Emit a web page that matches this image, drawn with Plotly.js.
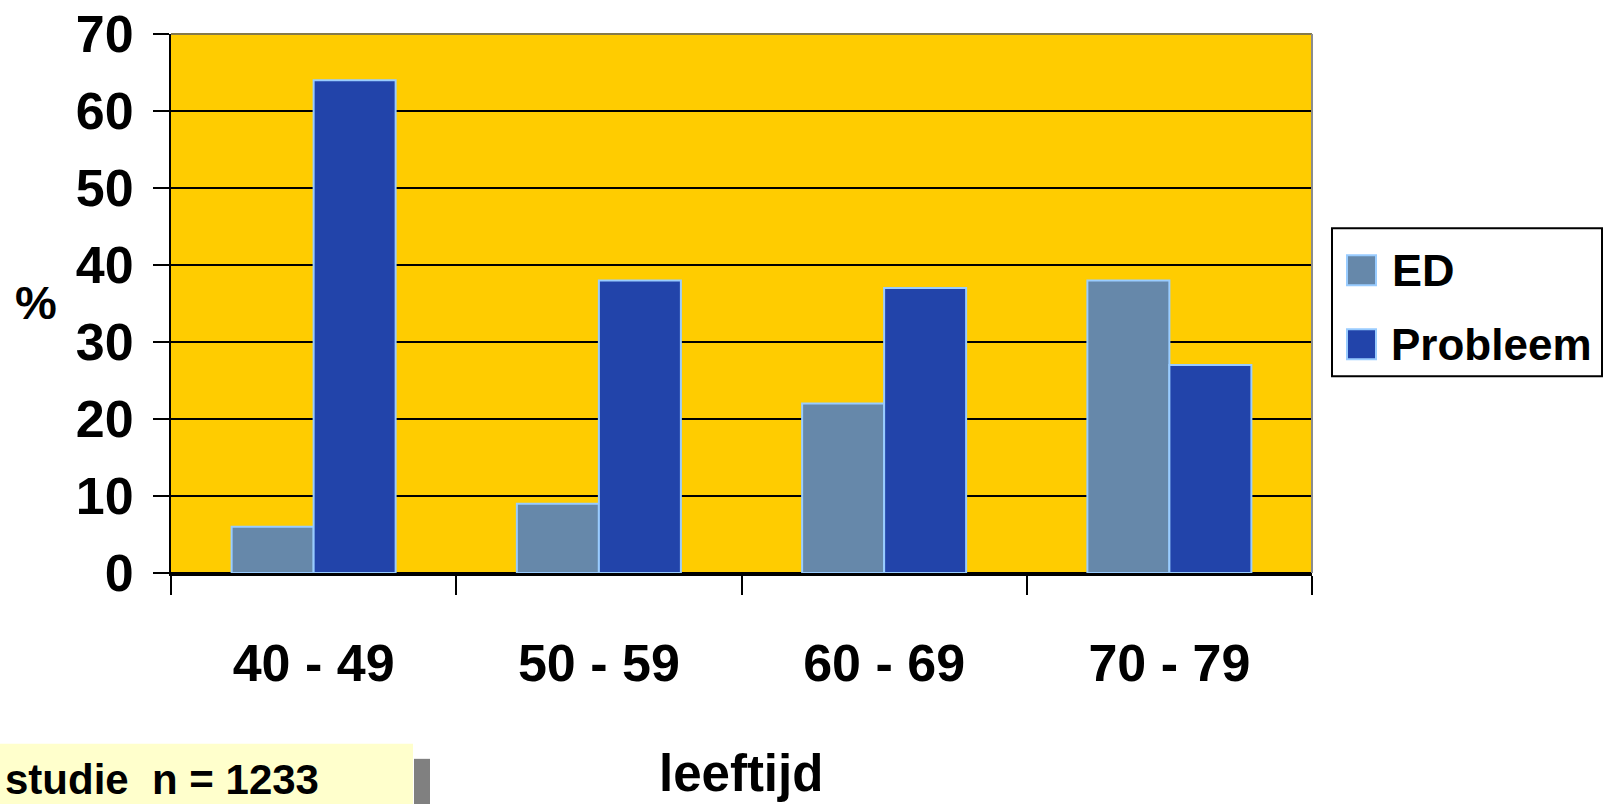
<!DOCTYPE html>
<html>
<head>
<meta charset="utf-8">
<script src="https://cdn.plot.ly/plotly-3.0.1.min.js"></script>
<style>html,body{margin:0;padding:0;background:#fff;}#chart{width:1608px;height:804px;}</style>
</head>
<body>
<div id="chart"></div>
<script>
const categories = ["40 - 49", "50 - 59", "60 - 69", "70 - 79"];
const edValues = [6, 9, 22, 38];
const probleemValues = [64, 38, 37, 27];
const seriesNames = ["ED", "Probleem"];
const yTicks = [0, 10, 20, 30, 40, 50, 60, 70];

const FONT = "Liberation Sans, Arial, sans-serif";
const colED = "#6688AA";
const colProb = "#2244AA";
const edgeCol = "#99CCFF";

const traces = [
  {type: "bar", name: seriesNames[0], x: categories, y: edValues,
   marker: {color: colED, line: {color: edgeCol, width: 2}}, hoverinfo: "x+y"},
  {type: "bar", name: seriesNames[1], x: categories, y: probleemValues,
   marker: {color: colProb, line: {color: edgeCol, width: 2}}, hoverinfo: "x+y"}
];

// pixel -> paper helpers (plot area 171..1312 x, 33.5..573 y)
const L = 171, R = 1312, T = 33.5, B = 573;
const px = v => (v - L) / (R - L);
const py = v => (B - v) / (B - T);

const shapes = [
  {type: "line", xref: "paper", yref: "paper", x0: 0, x1: 1, y0: 1, y1: 1, line: {color: "#857a4a", width: 2}, layer: "above"},
  {type: "line", xref: "paper", yref: "paper", x0: 1, x1: 1, y0: 0, y1: 1, line: {color: "#8c8c8c", width: 2}, layer: "above"},
  {type: "rect", xref: "paper", yref: "paper", x0: px(1332), x1: px(1602), y0: py(376), y1: py(228),
   line: {color: "#000", width: 2}, fillcolor: "#fff"},
  {type: "rect", xref: "paper", yref: "paper", x0: px(1347), x1: px(1376), y0: py(285), y1: py(255),
   line: {color: edgeCol, width: 2}, fillcolor: colED},
  {type: "rect", xref: "paper", yref: "paper", x0: px(1347), x1: px(1376), y0: py(359), y1: py(329),
   line: {color: edgeCol, width: 2}, fillcolor: colProb},
  {type: "rect", xref: "paper", yref: "paper", x0: px(-5), x1: px(413), y0: py(810), y1: py(744),
   line: {width: 0}, fillcolor: "#FFFFCC"},
  {type: "rect", xref: "paper", yref: "paper", x0: px(414), x1: px(430), y0: py(810), y1: py(759),
   line: {width: 0}, fillcolor: "#808080"}
];

const annotations = [
  {xref: "paper", yref: "paper", x: px(1390), y: py(270), xanchor: "left", yanchor: "middle",
   text: "<b>" + seriesNames[0] + "</b>", showarrow: false, font: {family: FONT, size: 45, color: "#000"}},
  {xref: "paper", yref: "paper", x: px(1389), y: py(344), xanchor: "left", yanchor: "middle",
   text: "<b>" + seriesNames[1] + "</b>", showarrow: false, font: {family: FONT, size: 44, color: "#000"}},
  {xref: "paper", yref: "paper", x: px(36), y: py(302), xanchor: "center", yanchor: "middle",
   text: "<b>%</b>", showarrow: false, font: {family: FONT, size: 47, color: "#000"}},
  {xref: "paper", yref: "paper", x: px(741), y: py(774), xanchor: "center", yanchor: "middle",
   text: "<b>leeftijd</b>", showarrow: false, font: {family: FONT, size: 51, color: "#000"}},
  {xref: "paper", yref: "paper", x: px(3), y: py(780), xanchor: "left", yanchor: "middle",
   text: "<b>studie  n = 1233</b>", showarrow: false, font: {family: FONT, size: 42, color: "#000"}}
];

const layout = {
  width: 1608, height: 804,
  margin: {l: L, r: 1608 - R, t: T, b: 804 - B, pad: 0},
  paper_bgcolor: "#ffffff",
  plot_bgcolor: "#FFCC00",
  barmode: "group",
  bargap: 0.425,
  bargroupgap: 0,
  showlegend: false,
  xaxis: {
    type: "category",
    tickson: "boundaries",
    ticks: "outside", ticklen: 19, tickwidth: 2, tickcolor: "#000",
    showline: true, linecolor: "#000", linewidth: 3,
    showgrid: false,
    tickfont: {family: FONT, size: 52, color: "#000", weight: "bold"},
    ticklabelstandoff: 43,
    fixedrange: true
  },
  yaxis: {
    range: [0, 70],
    tickvals: yTicks,
    ticktext: yTicks.map(String),
    ticks: "outside", ticklen: 16, tickwidth: 2, tickcolor: "#000",
    showline: true, linecolor: "#000", linewidth: 2,
    showgrid: true, gridcolor: "#000", gridwidth: 2,
    zeroline: true, zerolinecolor: "#000", zerolinewidth: 3,
    tickfont: {family: FONT, size: 52, color: "#000", weight: "bold"},
    ticklabelstandoff: 9,
    fixedrange: true
  },
  shapes: shapes,
  annotations: annotations
};

Plotly.newPlot("chart", traces, layout, {displayModeBar: false, staticPlot: true});
</script>
</body>
</html>
